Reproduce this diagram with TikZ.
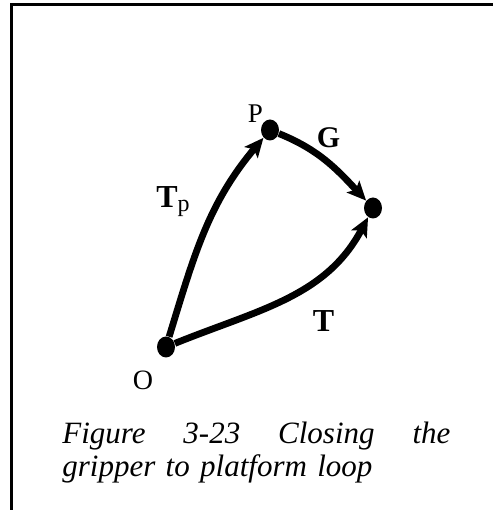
\documentclass[tikz,border=0pt]{standalone}
\usepackage{fontspec}
\setmainfont{Liberation Serif}
\usetikzlibrary{arrows.meta, shapes.geometric}
\tikzset{
  joint/.style={
    ellipse,
    fill=black,
    minimum width=9pt,
    minimum height=10.5pt,
    inner sep=0pt
  },
  looparc/.style={
    line width=3.4pt,
    -{Stealth[length=9.5pt, width=8.5pt, inset=2pt]}
  },
  lbl/.style={
    inner sep=0pt,
    anchor=base
  },
  captionline/.style={
    inner sep=0pt,
    anchor=base west,
    text width=194pt,
    align=left,
    font=\fontsize{15.5}{17}\selectfont\itshape
  }
}

\begin{document}
\begin{tikzpicture}[x=0.5pt, y=0.5pt]
  \useasboundingbox (0,0) rectangle (493,510);
  \draw[line width=1.2pt] (11.5,0) -- (11.5,505.5) -- (493,505.5);

  \node[joint] (o) at (166,163) {};
  \node[joint] (p) at (270,380) {};
  \node[joint] (r) at (373,302) {};

  \node[lbl, font=\fontsize{13.5}{14}\selectfont] (plabel) at (255.5,387) {P};
  \node[lbl, font=\fontsize{14}{14}\selectfont] (olabel) at (143,120) {O};
  \node[lbl, font=\fontsize{15}{15}\selectfont\bfseries] (glabel) at (328.5,362) {G};
  \node[lbl, font=\fontsize{16}{16}\selectfont\bfseries] (tlabel) at (323.5,178) {T};
  \node[lbl, anchor=base west, font=\fontsize{16}{16}\selectfont] (tplabel) at (156,302)
    {\textbf{T}\raisebox{-1.5pt}{\fontsize{12}{12}\selectfont p}};

  \draw[looparc] (o) to[out=73, in=230] (p);
  \draw[looparc] (p) to[out=-22, in=133] (r);
  \draw[looparc] (o) to[out=22, in=242] (r);

  \node[captionline] (cap1) at (62,67) {Figure\hfill 3-23\hfill Closing\hfill the};
  \node[captionline] (cap2) at (62,33) {gripper to platform loop};
\end{tikzpicture}
\end{document}
